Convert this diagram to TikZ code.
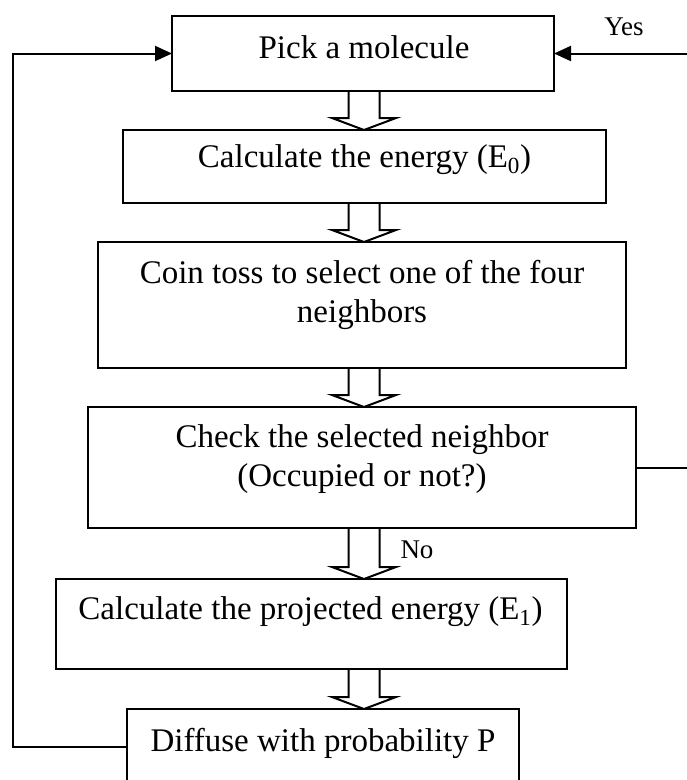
\documentclass[tikz,border=0pt]{standalone}
\usepackage{fontspec}
\setmainfont{Liberation Serif}
\usetikzlibrary{arrows.meta,calc}
\begin{document}
\begin{tikzpicture}[x=1pt,y=-1pt,
  box/.style={draw,line width=2pt,inner sep=0pt,outer sep=0pt},
  txt/.style={anchor=base,inner sep=0pt,align=center,font=\fontsize{33}{39}\selectfont},
  lbl/.style={anchor=base,inner sep=0pt,font=\fontsize{27}{30}\selectfont},
  conn/.style={line width=2pt},
  blk/.style={line width=2pt,line join=miter},
  tip/.style={-{Triangle[length=17pt,width=15pt]}}]
\useasboundingbox (0,0) rectangle (687,780);
\clip (0,0) rectangle (687,780);
% boxes
\node[box,minimum width=382pt,minimum height=75pt] (b1) at (363,53.5) {};
\node[box,minimum width=483pt,minimum height=73pt] (b2) at (364.5,166.5) {};
\node[box,minimum width=528pt,minimum height=126pt] (b3) at (362,305) {};
\node[box,minimum width=548pt,minimum height=121pt] (b4) at (362,467.5) {};
\node[box,minimum width=511pt,minimum height=90pt] (b5) at (311.5,624) {};
\node[box,minimum width=392pt,minimum height=90pt] (b6) at (323,754) {};
% texts
\node[txt] (t1) at (364,58) {Pick a molecule};
\node[txt] (t2) at (364.5,167) {Calculate the energy (E\textsubscript{0})};
\node[txt] (t3) at (362,322) {Coin toss to select one of the four\\neighbors};
\node[txt] (t4) at (362,486) {Check the selected neighbor\\(Occupied or not?)};
\node[txt] (t5) at (310.5,619) {Calculate the projected energy (E\textsubscript{1})};
\node[txt] (t6) at (323,751) {Diffuse with probability P};
\node[lbl] (yes) at (624,35) {Yes};
\node[lbl] (no) at (417,558) {No};
% helper coordinates
\coordinate (ax) at (364,0);
\coordinate (lc) at (13,0);
\coordinate (rc) at (720,0);
% block arrows
\newcommand\blkarr[2]{%
  \draw[blk] ($(ax |- #1.south)+(-15.5,0)$) -- ($(ax |- #2.north)+(-15.5,-12)$)
    -- ($(ax |- #2.north)+(-32,-12)$) -- (ax |- #2.north)
    -- ($(ax |- #2.north)+(32,-12)$) -- ($(ax |- #2.north)+(15.5,-12)$)
    -- ($(ax |- #1.south)+(15.5,0)$);}
\blkarr{b1}{b2}
\blkarr{b2}{b3}
\blkarr{b3}{b4}
\blkarr{b4}{b5}
\blkarr{b5}{b6}
% loop connectors
\draw[conn,tip] ($(b6.west)+(0,-7)$) -| (lc |- b1.west) -- (b1.west);
\draw[conn,tip] (b4.east) -| (rc |- b1.east) -- (b1.east);
\end{tikzpicture}
\end{document}
